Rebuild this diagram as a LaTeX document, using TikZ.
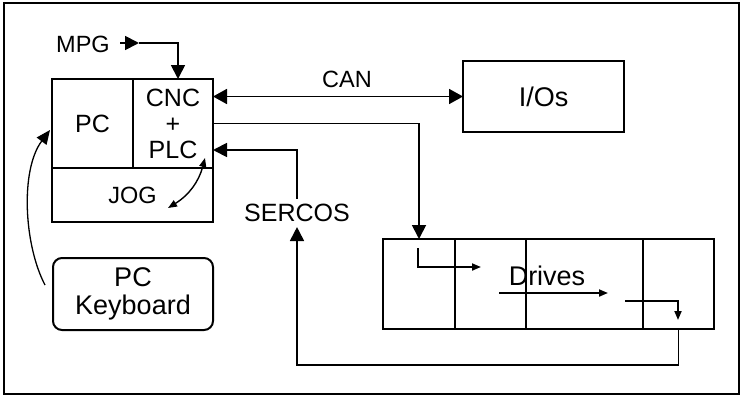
\documentclass[tikz,border=0pt]{standalone}
\usepackage{fontspec}
\setmainfont{Liberation Sans}
\usetikzlibrary{arrows.meta,calc}
\begin{document}
\begin{tikzpicture}[x=1pt,y=-1pt,
  box/.style={draw,line width=2pt,inner sep=0pt,outer sep=0pt,anchor=north west,align=center},
  conn/.style={line width=1.8pt},
  big/.style={-{Triangle[length=14pt,width=14pt]}},
  bigboth/.style={{Triangle[length=14pt,width=15pt]}-{Triangle[length=14pt,width=15pt]}},
  small/.style={-{Triangle[length=9pt,width=7pt]}},
  lbl/.style={inner sep=0pt,align=center},
  txt/.style={font=\fontsize{25}{26}\selectfont},
  txtb/.style={font=\fontsize{27}{28}\selectfont},
  txts/.style={font=\fontsize{23.5}{24}\selectfont}]
\useasboundingbox (0,0) rectangle (743,396);
\draw[line width=2pt] (4,3) rectangle (739,394);
% main unit
\node[box,txt,minimum width=81pt,minimum height=89pt] (pc) at (52,79) {PC};
\node[box,txt,minimum width=80pt,minimum height=89pt] (cnc) at (133,79) {CNC\\+\\PLC};
\node[box,txts,minimum width=161pt,minimum height=54pt] (jog) at (52,168) {JOG};
% I/Os
\node[box,txtb,minimum width=161pt,minimum height=71pt] (ios) at (463,61) {I/Os};
% drives
\node[box,minimum width=72pt,minimum height=90pt] (d1) at (383,239) {};
\node[box,minimum width=71pt,minimum height=90pt] (d2) at (455,239) {};
\node[box,minimum width=117pt,minimum height=90pt] (d3) at (526,239) {};
\node[box,minimum width=71pt,minimum height=90pt] (d4) at (643,239) {};
\node[lbl,txtb] (drv) at (547,276) {Drives};
% keyboard
\node[box,txtb,rounded corners=9pt,minimum width=160pt,minimum height=72pt] (kb) at (53,258) {PC\\Keyboard};
% labels
\node[lbl,txts] (mpg) at (83,44) {MPG};
\node[lbl,txts] (can) at (347,79) {CAN};
\node[lbl,txt,inner sep=5pt] (sercos) at (297,213) {SERCOS};
% coordinates
\coordinate (mpgs) at (120,43);
\coordinate (mpgm) at (139,43);
\coordinate (sin) at (213,150);
\coordinate (kbs) at (45,285);
\coordinate (kbe) at (50,130);
\coordinate (jga) at (205,158);
\coordinate (jgb) at (168,208);
% connectors
\draw[conn,big] (mpgs) -- (mpgm);
\draw[conn,big] (mpgm) -| (cnc.north -| 178,0);
\draw[conn,bigboth] (cnc.east |- ios.west) -- (ios.west);
\draw[conn,big] (cnc.east) -| (d1.north);
\draw[conn,big] (sercos.north) |- (sin);
\draw[conn,big] (d4.south) -- ++(0,36) -| (sercos.south);
\draw[line width=1.3pt,-{Triangle[length=14pt,width=12pt]}] (kbs) .. controls (24,245) and (20,170) .. (kbe);
\draw[line width=1.4pt,{Triangle[length=9pt,width=7pt]}-{Triangle[length=9pt,width=7pt]}] (jga) to[bend left=22] (jgb);
% drive internal arrows
\draw[conn,small] (418,248) |- (481,267);
\draw[conn,small] (499,293) -- (608,293);
\draw[conn,small] (625,301) -| (678,320);
\end{tikzpicture}
\end{document}
